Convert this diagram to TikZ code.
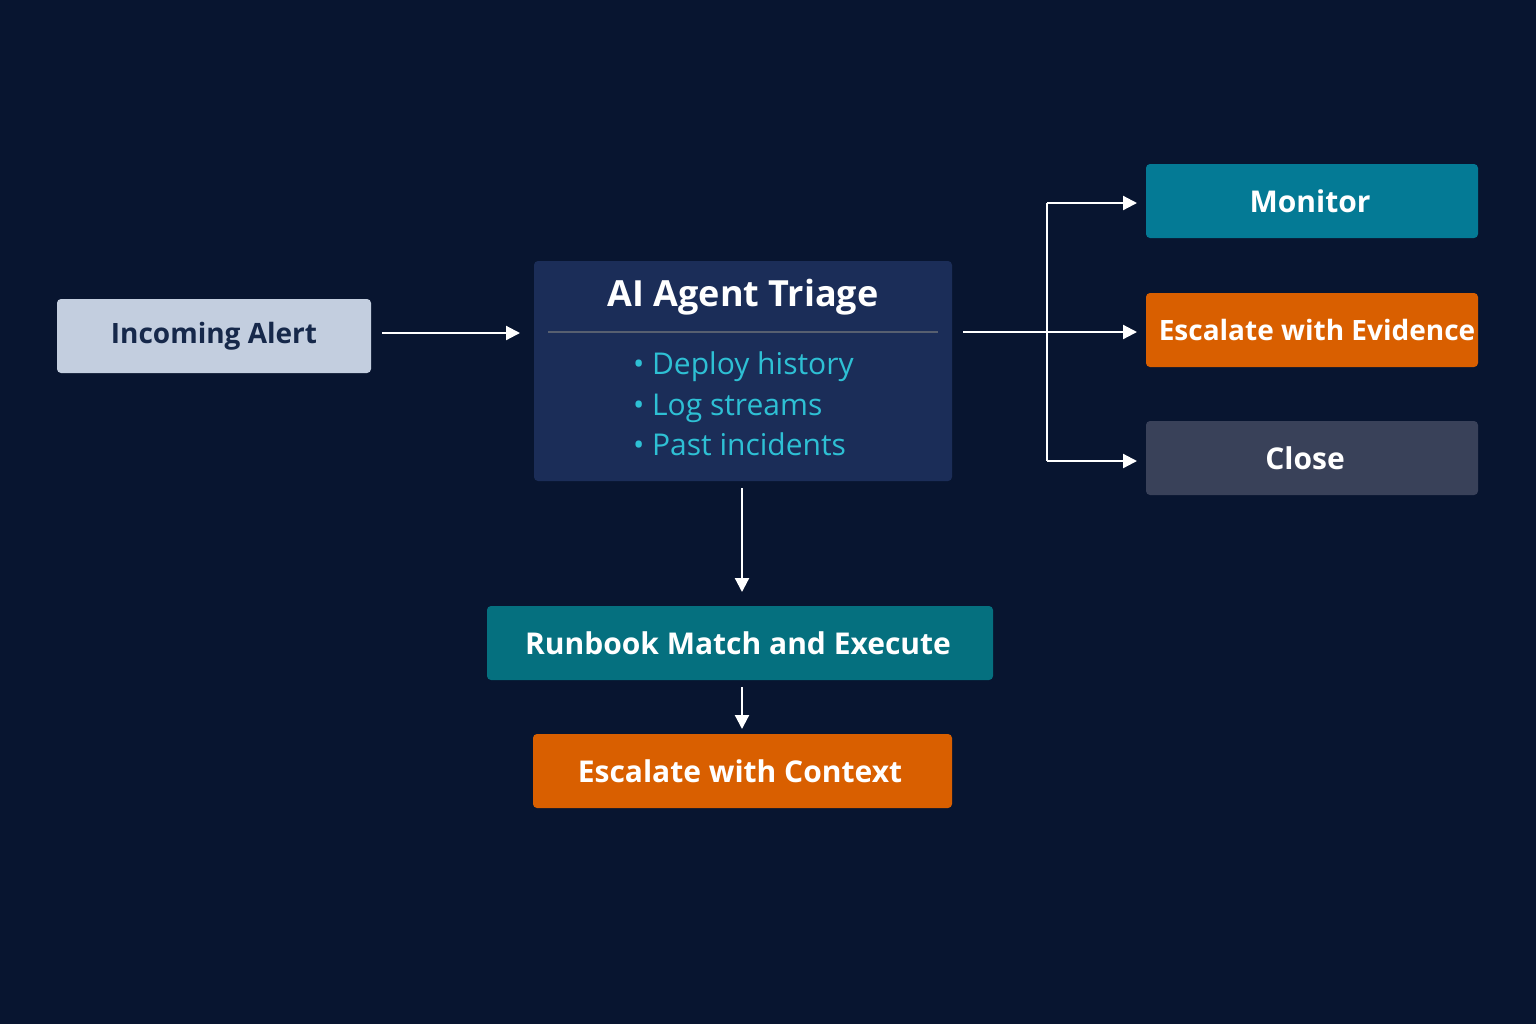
\documentclass[tikz,border=0pt]{standalone}
\usepackage{fontspec}
\setmainfont{Open Sans}
\usetikzlibrary{arrows.meta}
\definecolor{bg}{HTML}{081530}
\definecolor{alertc}{HTML}{C3CEDF}
\definecolor{darktxt}{HTML}{16284A}
\definecolor{triage}{HTML}{1B2D58}
\definecolor{bullet}{HTML}{2EC0D4}
\definecolor{tealA}{HTML}{047A95}
\definecolor{tealB}{HTML}{05707F}
\definecolor{orng}{HTML}{D95F00}
\definecolor{closec}{HTML}{394159}
\begin{document}
\begin{tikzpicture}[x=0.5pt,y=-0.5pt,
  box/.style={rounded corners=2pt,inner sep=0pt,font=\fontsize{15}{18}\selectfont\bfseries,text=white},
  arr/.style={draw=white,line width=1.1pt,-{Triangle[length=7pt,width=7pt]}},
  ln/.style={draw=white,line width=1.1pt}]
\fill[bg] (0,0) rectangle (1536,1024);
\useasboundingbox (0,0) rectangle (1536,1024);
\fill[alertc,rounded corners=2pt] (57,299) rectangle (371,373);
\node[font=\fontsize{14}{17}\selectfont\bfseries,text=darktxt] (alert) at (214,336) {Incoming Alert};
\fill[triage,rounded corners=2pt] (534,261) rectangle (952,481);
\node[font=\fontsize{18}{21}\selectfont\bfseries,text=white] (ttl) at (743,297) {AI Agent Triage};
\draw[gray!60!triage,line width=0.8pt] (548,332) -- (938,332);
\node[font=\fontsize{15}{20.2}\selectfont,text=bullet,align=left,anchor=west] (bl) at (626,404) {• Deploy history\\• Log streams\\• Past incidents};
\coordinate (tri) at (743,371);
\fill[tealA,rounded corners=2pt] (1146,164) rectangle (1478,238);
\node[box] (mon) at (1310,201) {Monitor};
\fill[orng,rounded corners=2pt] (1146,293) rectangle (1478,367);
\node[box,font=\fontsize{14}{17}\selectfont\bfseries] (esc1) at (1317,330) {Escalate with Evidence};
\fill[closec,rounded corners=2pt] (1146,421) rectangle (1478,495);
\node[box] (cls) at (1305,458) {Close};
\fill[tealB,rounded corners=2pt] (487,606) rectangle (993,680);
\node[box] (rb) at (738,643) {Runbook Match and Execute};
\fill[orng,rounded corners=2pt] (533,734) rectangle (952,808);
\node[box] (esc2) at (740,771) {Escalate with Context};
\coordinate (a1) at (382,333); \coordinate (a2) at (520,333);
\draw[arr] (a1) -- (a2);
\coordinate (b1) at (963,332); \coordinate (bj) at (1047,332); \coordinate (b2) at (1137,332);
\draw[arr] (b1) -- (b2);
\coordinate (jt) at (1047,203); \coordinate (jb) at (1047,461);
\draw[ln] (jt) -- (jb);
\coordinate (m2) at (1137,203); \coordinate (c2) at (1137,461);
\draw[arr] (jt) -- (m2);
\draw[arr] (jb) -- (c2);
\coordinate (d1) at (742,488); \coordinate (d2) at (742,592);
\draw[arr] (d1) -- (d2);
\coordinate (e1) at (742,687); \coordinate (e2) at (742,729);
\draw[arr] (e1) -- (e2);
\end{tikzpicture}
\end{document}
